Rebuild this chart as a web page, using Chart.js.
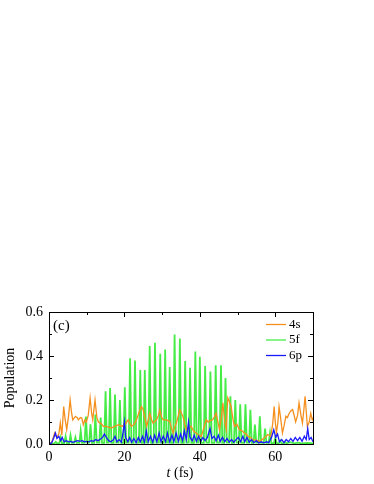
<!DOCTYPE html>
<html>
<head>
<meta charset="utf-8">
<script src="https://cdn.jsdelivr.net/npm/chart.js@4/dist/chart.umd.min.js"></script>
<style>
  html, body { margin: 0; padding: 0; background: #fff; }
  #wrap { width: 374px; height: 484px; }
</style>
</head>
<body>
<div id="wrap"><canvas id="popChart" width="374" height="484"></canvas></div>
<script>
// series labels
const seriesNames = ["4s", "5f", "6p"];
const seriesColors = ["#f5901f", "#45ec45", "#1a1aff"];

// axis ticks
const xTicks = [0, 20, 40, 60];
const xMinor = [10, 30, 50, 70];
const yTicks = [0, 0.2, 0.4, 0.6];
const yMinor = [0.1, 0.3, 0.5];

// 4s population [t (fs), value]
const pop4s = [[0,0],[0.8,0.01],[1.5,0.05],[2.1,0.03],[2.6,0.045],[3.0,0.096],[3.4,0.04],[3.9,0.17],[4.3,0.11],[4.7,0.065],
  [5.2,0.13],[5.6,0.2],[6.0,0.14],[6.3,0.11],[7.0,0.126],[7.5,0.12],[7.8,0.11],[8.3,0.12],[8.7,0.118],[9.1,0.088],
  [9.5,0.11],[9.9,0.1],[10.4,0.13],[10.9,0.21],[11.3,0.14],[11.6,0.11],[12.2,0.2],[12.7,0.12],[13.1,0.1],[13.5,0.096],
  [14.0,0.09],[14.4,0.08],[15.3,0.08],[16.0,0.075],[16.6,0.073],[17.5,0.08],[18.4,0.088],[19.3,0.08],[20.1,0.088],[21.0,0.11],
  [21.5,0.09],[21.9,0.08],[22.6,0.09],[23.2,0.11],[23.8,0.14],[24.5,0.17],[24.9,0.16],[25.4,0.12],[25.9,0.08],[26.3,0.11],
  [26.7,0.14],[27.2,0.11],[27.6,0.095],[28.5,0.11],[29.0,0.13],[29.4,0.155],[29.9,0.12],[30.3,0.11],[31.1,0.11],[32.0,0.103],
  [32.5,0.07],[32.9,0.05],[33.4,0.08],[33.8,0.096],[34.3,0.13],[34.7,0.156],[35.1,0.14],[35.5,0.126],[36.0,0.09],[36.4,0.065],
  [37.0,0.075],[37.7,0.08],[38.3,0.06],[39.0,0.05],[39.7,0.04],[40.4,0.035],[41.0,0.07],[41.7,0.11],[42.2,0.1],[42.6,0.105],
  [43.4,0.11],[43.9,0.125],[44.3,0.14],[44.8,0.1],[45.2,0.065],[45.7,0.12],[46.1,0.187],[46.6,0.1],[47.0,0.065],[47.4,0.21],
  [47.9,0.19],[48.3,0.17],[48.8,0.11],[49.2,0.08],[49.8,0.09],[50.5,0.065],[51.2,0.06],[51.8,0.05],[52.3,0.045],[52.7,0.035],
  [53.4,0.03],[54.0,0.02],[54.9,0.018],[55.8,0.012],[56.5,0.02],[57.1,0.027],[57.6,0.035],[58.0,0.043],[58.4,0.04],[58.8,0.035],
  [59.3,0.09],[59.7,0.17],[60.0,0.1],[60.3,0.05],[60.7,0.1],[61.0,0.17],[61.4,0.12],[61.9,0.05],[62.3,0.08],[62.8,0.126],
  [63.2,0.12],[63.7,0.14],[64.1,0.15],[64.6,0.156],[65.0,0.13],[65.4,0.1],[65.9,0.13],[66.3,0.187],[66.8,0.13],[67.2,0.095],
  [67.6,0.16],[67.9,0.217],[68.2,0.15],[68.5,0.08],[69.0,0.1],[69.4,0.14],[69.8,0.11],[70,0.12]];

// 5f population [t (fs), value]: narrow spikes on a near-zero floor
const pop5f = [[0,0],
  [1.45,0.003],[1.8,0.01],[2.15,0.003],   [2.75,0.004],[3.1,0.03],[3.45,0.004],   [4.05,0.004],[4.4,0.035],[4.75,0.004],
  [5.35,0.004],[5.7,0.04],[6.05,0.005],   [6.65,0.005],[7.0,0.03],[7.35,0.005],   [8.05,0.005],[8.4,0.06],[8.75,0.005],
  [9.45,0.006],[9.8,0.125],[10.15,0.006], [10.65,0.006],[11.0,0.09],[11.35,0.005], [11.95,0.005],[12.3,0.134],[12.65,0.006],
  [13.35,0.006],[13.7,0.12],[14.05,0.005], [14.65,0.005],[15.0,0.24],[15.35,0.006], [15.85,0.006],[16.2,0.255],[16.55,0.005],
  [17.15,0.005],[17.5,0.225],[17.85,0.006], [18.45,0.006],[18.8,0.2],[19.15,0.005], [19.75,0.005],[20.1,0.258],[20.45,0.006],
  [21.15,0.006],[21.5,0.39],[21.85,0.005], [22.45,0.005],[22.8,0.38],[23.15,0.006], [23.85,0.006],[24.2,0.336],[24.55,0.005],
  [25.05,0.005],[25.4,0.336],[25.75,0.006], [26.35,0.006],[26.7,0.445],[27.05,0.005], [27.75,0.005],[28.1,0.46],[28.45,0.006],
  [29.15,0.006],[29.5,0.41],[29.85,0.005], [30.45,0.005],[30.8,0.43],[31.15,0.006], [31.65,0.006],[32.0,0.35],[32.35,0.005],
  [32.95,0.005],[33.3,0.498],[33.65,0.006], [34.35,0.006],[34.7,0.48],[35.05,0.005], [35.75,0.005],[36.1,0.377],[36.45,0.006],
  [37.05,0.006],[37.4,0.346],[37.75,0.005], [38.45,0.005],[38.8,0.42],[39.15,0.006], [39.65,0.006],[40.0,0.396],[40.35,0.005],
  [41.05,0.005],[41.4,0.354],[41.75,0.006], [42.45,0.006],[42.8,0.33],[43.15,0.005], [43.85,0.005],[44.2,0.358],[44.55,0.006],
  [45.25,0.006],[45.6,0.358],[45.95,0.005], [46.45,0.005],[46.8,0.3],[47.15,0.006], [47.75,0.006],[48.1,0.217],[48.45,0.005],
  [49.05,0.005],[49.4,0.2],[49.75,0.006], [50.35,0.006],[50.7,0.18],[51.05,0.005], [51.75,0.005],[52.1,0.18],[52.45,0.006],
  [53.05,0.006],[53.4,0.156],[53.75,0.005], [54.25,0.005],[54.6,0.088],[54.95,0.006], [55.55,0.006],[55.9,0.126],[56.25,0.005],
  [56.95,0.005],[57.3,0.07],[57.65,0.005], [58.25,0.005],[58.6,0.05],[58.95,0.004], [59.65,0.004],[60.0,0.03],[60.35,0.004],
  [60.95,0.004],[61.3,0.015],[61.65,0.003], [62.25,0.003],[62.6,0.01],[62.95,0.003],
  [64.0,0.008],[65.0,0.003],[66.0,0.006],[67.0,0.003],[68.5,0.005],[70,0.003]];

// 6p population [t (fs), value]
const pop6p = [[0,0],[0.7,0.005],[1.3,0.03],[1.7,0.05],[2.1,0.025],[2.6,0.035],[3.1,0.015],[3.5,0.03],[4.0,0.01],[4.6,0.015],
  [5.2,0.01],[5.8,0.012],[6.4,0.008],[7.0,0.012],[7.6,0.015],[8.2,0.012],[8.8,0.015],[9.4,0.01],[10.0,0.012],[10.6,0.01],
  [11.2,0.015],[11.8,0.012],[12.4,0.02],[13.0,0.015],[13.6,0.022],[14.2,0.03],[14.7,0.045],[15.2,0.03],[15.8,0.015],[16.4,0.01],
  [17.0,0.018],[17.5,0.035],[18.0,0.01],[18.6,0.02],[19.2,0.008],[19.7,0.06],[20.0,0.1],[20.3,0.03],[20.9,0.01],[21.4,0.03],
  [21.9,0.008],[22.5,0.025],[23.1,0.006],[23.7,0.03],[24.2,0.01],[24.8,0.035],[25.3,0.008],[25.8,0.06],[26.3,0.01],[26.9,0.035],
  [27.5,0.008],[28.0,0.04],[28.6,0.01],[29.2,0.05],[29.7,0.01],[30.3,0.035],[30.9,0.01],[31.4,0.05],[32.0,0.01],[32.6,0.04],
  [33.1,0.01],[33.7,0.05],[34.3,0.012],[34.9,0.045],[35.4,0.015],[35.9,0.06],[36.4,0.02],[37.0,0.1],[37.4,0.03],[38.0,0.015],
  [38.5,0.04],[39.1,0.012],[39.7,0.035],[40.2,0.01],[40.8,0.03],[41.4,0.015],[42.0,0.03],[42.7,0.07],[43.2,0.025],[43.8,0.035],
  [44.3,0.015],[44.9,0.04],[45.4,0.012],[46.0,0.03],[46.6,0.01],[47.2,0.025],[47.8,0.008],[48.4,0.02],[49.0,0.008],[49.6,0.02],
  [50.2,0.03],[50.8,0.01],[51.4,0.035],[51.9,0.01],[52.5,0.03],[53.1,0.008],[53.7,0.02],[54.3,0.006],[55.0,0.015],[55.6,0.005],
  [56.3,0.01],[57.0,0.005],[57.7,0.01],[58.3,0.006],[59.0,0.03],[59.6,0.065],[60.1,0.03],[60.6,0.045],[61.1,0.01],[61.7,0.02],
  [62.3,0.006],[62.9,0.02],[63.5,0.01],[64.1,0.025],[64.7,0.012],[65.3,0.03],[65.9,0.015],[66.5,0.03],[67.1,0.012],[67.7,0.035],
  [68.2,0.02],[68.6,0.07],[69.0,0.02],[69.5,0.03],[70,0.01]];

const serif = "'Liberation Serif', 'DejaVu Serif', serif";

function toXY(arr) { return arr.map(p => ({ x: p[0], y: p[1] })); }

// frame, inward ticks on all sides, axis titles, panel label, legend
const framePlugin = {
  id: "frame",
  afterDraw(chart) {
    const c = chart.ctx, a = chart.chartArea;
    const xs = chart.scales.x, ys = chart.scales.y;
    c.save();
    c.strokeStyle = "#000";
    c.lineWidth = 1;
    c.strokeRect(Math.round(a.left) + 0.5, Math.round(a.top) + 0.5,
                 Math.round(a.right - a.left), Math.round(a.bottom - a.top));
    c.beginPath();
    function xt(v, len) {
      const px = Math.round(xs.getPixelForValue(v)) + 0.5;
      c.moveTo(px, a.bottom); c.lineTo(px, a.bottom - len);
      c.moveTo(px, a.top); c.lineTo(px, a.top + len);
    }
    function yt(v, len) {
      const py = Math.round(ys.getPixelForValue(v)) + 0.5;
      c.moveTo(a.left, py); c.lineTo(a.left + len, py);
      c.moveTo(a.right, py); c.lineTo(a.right - len, py);
    }
    xTicks.forEach(v => xt(v, 5));
    xMinor.forEach(v => xt(v, 3));
    yTicks.forEach(v => yt(v, 5));
    yMinor.forEach(v => yt(v, 3));
    c.stroke();

    c.fillStyle = "#000";
    // y title
    c.save();
    c.translate(10, (a.top + a.bottom) / 2);
    c.rotate(-Math.PI / 2);
    c.font = "14px " + serif;
    c.textAlign = "center";
    c.textBaseline = "middle";
    c.fillText("Population", 0, 0);
    c.restore();

    // x title with italic t
    c.textBaseline = "middle";
    c.textAlign = "left";
    const ty = 473;
    c.font = "italic 14px " + serif;
    const w1 = c.measureText("t").width;
    c.font = "14px " + serif;
    const rest = " (fs)";
    const w2 = c.measureText(rest).width;
    const cx = 180;
    let sx = cx - (w1 + w2) / 2;
    c.font = "italic 14px " + serif;
    c.fillText("t", sx, ty);
    c.font = "14px " + serif;
    c.fillText(rest, sx + w1, ty);

    // panel label
    c.font = "15px " + serif;
    c.fillText("(c)", a.left + 4, a.top + 14);

    // legend
    c.font = "13px " + serif;
    seriesNames.forEach((name, i) => {
      const ly = a.top + 12.5 + i * 15.5;
      c.strokeStyle = seriesColors[i];
      c.lineWidth = 1.3;
      c.beginPath();
      c.moveTo(a.right - 47, ly); c.lineTo(a.right - 27, ly);
      c.stroke();
      c.fillStyle = "#000";
      c.fillText(name, a.right - 24, ly);
    });
    c.restore();
  }
};

const ctx = document.getElementById("popChart").getContext("2d");
new Chart(ctx, {
  type: "line",
  data: {
    datasets: [
      { label: seriesNames[0], data: toXY(pop4s), borderColor: seriesColors[0], order: 1 },
      { label: seriesNames[1], data: toXY(pop5f), borderColor: seriesColors[1], borderWidth: 1.8, order: 2 },
      { label: seriesNames[2], data: toXY(pop6p), borderColor: seriesColors[2], order: 0 }
    ]
  },
  options: {
    responsive: false,
    animation: false,
    elements: {
      line: { borderWidth: 1.3, tension: 0, fill: false },
      point: { radius: 0 }
    },
    layout: { padding: { top: 312, right: 61, left: 0, bottom: 0 } },
    plugins: { legend: { display: false }, tooltip: { enabled: false } },
    scales: {
      x: {
        type: "linear",
        min: 0, max: 70,
        grid: { display: false, drawTicks: false },
        border: { display: false },
        afterBuildTicks: s => { s.ticks = xTicks.map(v => ({ value: v })); },
        afterFit: s => { s.height = 40; },
        ticks: { color: "#000", font: { family: serif, size: 14 }, padding: 5, maxRotation: 0,
                 callback: v => String(v) }
      },
      y: {
        min: 0, max: 0.6,
        grid: { display: false, drawTicks: false },
        border: { display: false },
        afterBuildTicks: s => { s.ticks = yTicks.map(v => ({ value: v })); },
        afterFit: s => { s.width = 49; },
        ticks: { color: "#000", font: { family: serif, size: 14 }, padding: 6,
                 callback: v => v.toFixed(1) }
      }
    }
  },
  plugins: [framePlugin]
});
</script>
</body>
</html>
